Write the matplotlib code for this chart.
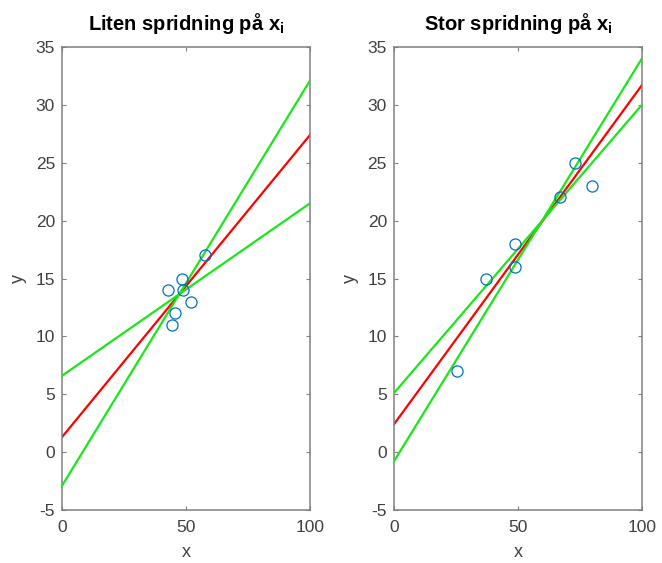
import matplotlib.pyplot as plt
import numpy as np

plt.rcParams['font.family'] = ['Liberation Sans', 'DejaVu Sans']
plt.rcParams['mathtext.fontset'] = 'custom'
plt.rcParams['mathtext.rm'] = 'Liberation Sans'
plt.rcParams['mathtext.bf'] = 'Liberation Sans:bold'
plt.rcParams['axes.unicode_minus'] = False

# data
titles = [r'Liten spridning på x$_\mathbf{i}$', r'Stor spridning på x$_\mathbf{i}$']

x_small = [42.7, 48.4, 48.8, 57.7, 52.0, 45.6, 44.4]
y_small = [14.0, 15.0, 14.0, 17.0, 13.0, 12.0, 11.0]

x_large = [73.0, 80.0, 67.0, 49.0, 49.0, 37.0, 25.5]
y_large = [25.0, 23.0, 22.0, 18.0, 16.0, 15.0, 7.0]

# line values at x=0 and x=100: fit, steep band, shallow band
fit_small = [1.3, 27.4]
steep_small = [-2.9, 32.1]
shallow_small = [6.6, 21.5]

fit_large = [2.4, 31.7]
steep_large = [-0.8, 34.0]
shallow_large = [5.1, 30.0]

line_x = [0, 100]
yticks = list(range(-5, 40, 5))
xticks = [0, 50, 100]

BLUE = (0.0, 0.447, 0.741)
TXT = (0.25, 0.25, 0.25)
SPINE = (0.5, 0.5, 0.5)

fig = plt.figure(figsize=(6.62, 5.63), dpi=100)
ax1 = fig.add_axes([0.0937, 0.0941, 0.3746, 0.8224])
ax2 = fig.add_axes([0.595, 0.0941, 0.3746, 0.8224])

panels = [
    (ax1, x_small, y_small, fit_small, steep_small, shallow_small, titles[0]),
    (ax2, x_large, y_large, fit_large, steep_large, shallow_large, titles[1]),
]

for ax, xs, ys, fit, steep, shallow, title in panels:
    ax.plot(line_x, fit, color='red', lw=1.6, zorder=2)
    ax.plot(line_x, steep, color=(0.1, 0.9, 0.1), lw=1.6, zorder=3)
    ax.plot(line_x, shallow, color=(0.1, 0.9, 0.1), lw=1.6, zorder=3)
    ax.plot(xs, ys, 'o', mfc='none', mec=BLUE, ms=8, mew=0.9, zorder=4)
    ax.set_xlim(0, 100)
    ax.set_ylim(-5, 35)
    ax.set_xticks(xticks)
    ax.set_yticks(yticks)
    ax.tick_params(direction='in', top=True, right=True, length=3,
                   width=0.8, labelsize=12.5, color=SPINE, labelcolor=TXT)
    ax.tick_params(axis='x', pad=7)
    ax.tick_params(axis='y', pad=5)
    for s in ax.spines.values():
        s.set_color(SPINE)
        s.set_linewidth(1.1)
    ax.set_xlabel('x', fontsize=13, color=TXT, labelpad=7)
    ax.set_ylabel('y', fontsize=13, color=TXT, labelpad=6)
    ax.set_title(title, fontsize=14.5, fontweight='bold', pad=12)

fig.savefig('out.png', dpi=100)
